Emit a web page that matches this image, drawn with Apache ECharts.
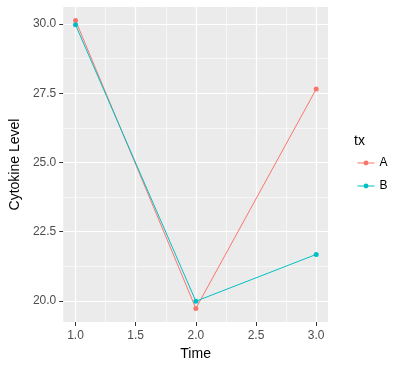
<!DOCTYPE html>
<html>
<head>
<meta charset="utf-8">
<script src="https://cdn.jsdelivr.net/npm/echarts@6/dist/echarts.min.js"></script>
<style>html,body{margin:0;padding:0;background:#fff;}#c{width:400px;height:366px;}</style>
</head>
<body>
<div id="c"></div>
<script>
const times = [1, 2, 3];
const seriesNames = ['A', 'B'];
const valuesA = [30.13, 19.73, 27.65];
const valuesB = [29.97, 19.99, 21.68];
const xTicks = [1.0, 1.5, 2.0, 2.5, 3.0];
const xMinor = [1.25, 1.75, 2.25, 2.75];
const yTicks = [20.0, 22.5, 25.0, 27.5, 30.0];
const yMinor = [21.25, 23.75, 26.25, 28.75];

const FONT = 'Liberation Sans, Arial, sans-serif';
const colors = ['#F8766D', '#00BFC4'];

const chart = echarts.init(document.getElementById('c'), null, {renderer: 'canvas'});

function pairs(a, b) { return a.map((v, i) => [v, b[i]]); }

const gridLines = [].concat(
  xMinor.map(v => ({xAxis: v, lineStyle: {width: 0.6}})),
  yMinor.map(v => ({yAxis: v, lineStyle: {width: 0.6}})),
  xTicks.map(v => ({xAxis: v, lineStyle: {width: 1.2}})),
  yTicks.map(v => ({yAxis: v, lineStyle: {width: 1.2}}))
);

chart.setOption({
  animation: false,
  textStyle: {fontFamily: FONT},
  title: {
    text: 'tx', left: 349, top: 129,
    textStyle: {fontFamily: FONT, fontSize: 14, fontWeight: 'normal', color: '#000'}
  },
  legend: {
    data: seriesNames,
    orient: 'vertical',
    left: 352, top: 151,
    itemWidth: 17, itemHeight: 6, itemGap: 9,
    lineStyle: {width: 1},
    textStyle: {fontFamily: FONT, fontSize: 12, color: '#000', lineHeight: 14},
    selectedMode: false
  },
  grid: {
    left: 60, right: 72, top: 7, bottom: 44,
    show: true, backgroundColor: '#EBEBEB', borderWidth: 0,
    containLabel: false
  },
  xAxis: {
    type: 'value', min: 0.898, max: 3.098,
    name: 'Time', nameLocation: 'middle', nameGap: 22,
    nameTextStyle: {fontFamily: FONT, fontSize: 14, color: '#000'},
    axisLine: {show: false},
    axisTick: {show: true, length: 4, customValues: xTicks, lineStyle: {color: '#333', width: 1}},
    axisLabel: {customValues: xTicks, formatter: v => v.toFixed(1), margin: 8,
      fontFamily: FONT, fontSize: 12, color: '#4D4D4D'},
    splitLine: {show: false}
  },
  yAxis: {
    type: 'value', min: 19.24, max: 30.615,
    name: 'Cytokine Level', nameLocation: 'middle', nameGap: 38,
    nameTextStyle: {fontFamily: FONT, fontSize: 14, color: '#000'},
    axisLine: {show: false},
    axisTick: {show: true, length: 4, customValues: yTicks, lineStyle: {color: '#333', width: 1}},
    axisLabel: {customValues: yTicks, formatter: v => v.toFixed(1), margin: 7,
      fontFamily: FONT, fontSize: 12, color: '#4D4D4D'},
    splitLine: {show: false}
  },
  series: [
    {
      type: 'line', name: '_grid', data: [], z: 1, silent: true,
      markLine: {
        silent: true, symbol: 'none', label: {show: false},
        lineStyle: {color: '#FFFFFF', type: 'solid'},
        animation: false,
        data: gridLines
      }
    },
    {
      type: 'line', name: seriesNames[0], data: pairs(times, valuesA), zlevel: 1,
      color: colors[0], symbol: 'circle', symbolSize: 5, showSymbol: true,
      lineStyle: {width: 1, color: colors[0]}, itemStyle: {color: colors[0]}, z: 3
    },
    {
      type: 'line', name: seriesNames[1], data: pairs(times, valuesB), zlevel: 1,
      color: colors[1], symbol: 'circle', symbolSize: 5, showSymbol: true,
      lineStyle: {width: 1, color: colors[1]}, itemStyle: {color: colors[1]}, z: 4
    }
  ]
});
</script>
</body>
</html>
